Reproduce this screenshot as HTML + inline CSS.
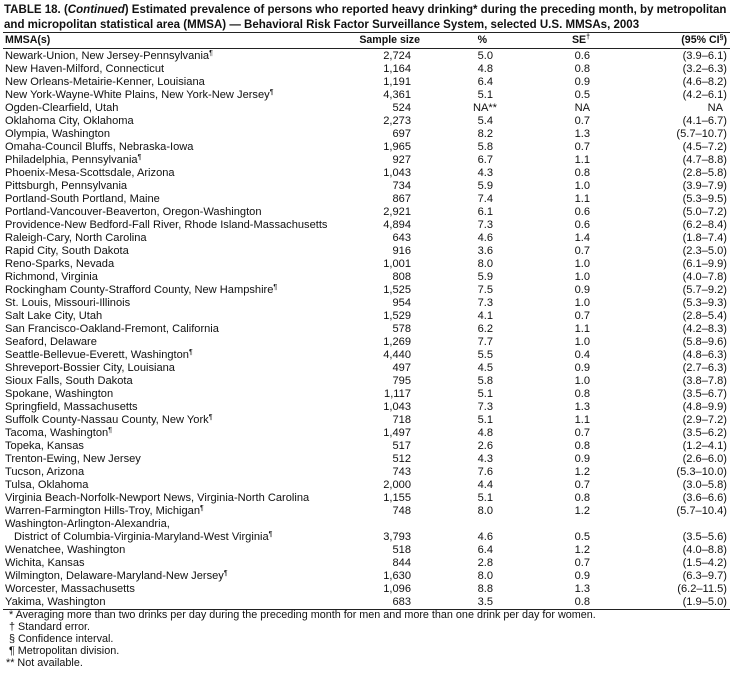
<!DOCTYPE html>
<html><head><meta charset="utf-8"><style>
body{margin:0;background:#fff;width:733px;height:676px;overflow:hidden;font-family:"Liberation Sans",Arial,sans-serif;color:#111;position:relative}
.t{position:absolute;left:4px;font-weight:bold;font-size:12px;white-space:nowrap;transform-origin:0 0;transform:scaleX(0.96)}
.hr{position:absolute;left:3px;width:727px;height:1px;background:#222}
.r{position:absolute;left:0;width:733px;height:13px;line-height:13px;font-size:11.1px;white-space:nowrap}
.r span{position:absolute;top:0}
.n{left:5px}
.s{right:322px;text-align:right}
.p{right:240px}
.e{right:143px}
.c{right:6px}
sup{font-size:7px;line-height:0;vertical-align:4px}
.h{font-weight:bold;font-size:10.6px}
.f{position:absolute;left:6px;font-size:10.8px;line-height:12px;white-space:nowrap}
</style></head><body>
<div class="t" style="top:2px">TABLE 18. (<i>Continued</i>) Estimated prevalence of persons who reported heavy drinking* during the preceding month, by metropolitan</div>
<div class="t" style="top:17px">and micropolitan statistical area (MMSA) — Behavioral Risk Factor Surveillance System, selected U.S. MMSAs, 2003</div>
<div class="hr" style="top:32px"></div>
<div class="r h" style="top:34px"><span class="n">MMSA(s)</span><span class="s" style="right:313px">Sample size</span><span class="p" style="right:246px">%</span><span class="e">SE<sup>†</sup></span><span class="c">(95% CI<sup>§</sup>)</span></div>
<div class="hr" style="top:48px"></div>
<div class="hr" style="top:609px"></div>
<div class="f" style="top:609px">&nbsp;* Averaging more than two drinks per day during the preceding month for men and more than one drink per day for women.</div>
<div class="f" style="top:621px">&nbsp;† Standard error.</div>
<div class="f" style="top:633px">&nbsp;§ Confidence interval.</div>
<div class="f" style="top:645px">&nbsp;¶ Metropolitan division.</div>
<div class="f" style="top:657px">** Not available.</div>
<div class="r" style="top:50px"><span class="n">Newark-Union, New Jersey-Pennsylvania<sup>¶</sup></span><span class="s">2,724</span><span class="p">5.0</span><span class="e">0.6</span><span class="c">(3.9–6.1)</span></div>
<div class="r" style="top:63px"><span class="n">New Haven-Milford, Connecticut</span><span class="s">1,164</span><span class="p">4.8</span><span class="e">0.8</span><span class="c">(3.2–6.3)</span></div>
<div class="r" style="top:76px"><span class="n">New Orleans-Metairie-Kenner, Louisiana</span><span class="s">1,191</span><span class="p">6.4</span><span class="e">0.9</span><span class="c">(4.6–8.2)</span></div>
<div class="r" style="top:89px"><span class="n">New York-Wayne-White Plains, New York-New Jersey<sup>¶</sup></span><span class="s">4,361</span><span class="p">5.1</span><span class="e">0.5</span><span class="c">(4.2–6.1)</span></div>
<div class="r" style="top:102px"><span class="n">Ogden-Clearfield, Utah</span><span class="s">524</span><span class="p" style="right:236px">NA**</span><span class="e">NA</span><span class="c" style="right:10px">NA</span></div>
<div class="r" style="top:115px"><span class="n">Oklahoma City, Oklahoma</span><span class="s">2,273</span><span class="p">5.4</span><span class="e">0.7</span><span class="c">(4.1–6.7)</span></div>
<div class="r" style="top:128px"><span class="n">Olympia, Washington</span><span class="s">697</span><span class="p">8.2</span><span class="e">1.3</span><span class="c">(5.7–10.7)</span></div>
<div class="r" style="top:141px"><span class="n">Omaha-Council Bluffs, Nebraska-Iowa</span><span class="s">1,965</span><span class="p">5.8</span><span class="e">0.7</span><span class="c">(4.5–7.2)</span></div>
<div class="r" style="top:154px"><span class="n">Philadelphia, Pennsylvania<sup>¶</sup></span><span class="s">927</span><span class="p">6.7</span><span class="e">1.1</span><span class="c">(4.7–8.8)</span></div>
<div class="r" style="top:167px"><span class="n">Phoenix-Mesa-Scottsdale, Arizona</span><span class="s">1,043</span><span class="p">4.3</span><span class="e">0.8</span><span class="c">(2.8–5.8)</span></div>
<div class="r" style="top:180px"><span class="n">Pittsburgh, Pennsylvania</span><span class="s">734</span><span class="p">5.9</span><span class="e">1.0</span><span class="c">(3.9–7.9)</span></div>
<div class="r" style="top:193px"><span class="n">Portland-South Portland, Maine</span><span class="s">867</span><span class="p">7.4</span><span class="e">1.1</span><span class="c">(5.3–9.5)</span></div>
<div class="r" style="top:206px"><span class="n">Portland-Vancouver-Beaverton, Oregon-Washington</span><span class="s">2,921</span><span class="p">6.1</span><span class="e">0.6</span><span class="c">(5.0–7.2)</span></div>
<div class="r" style="top:219px"><span class="n">Providence-New Bedford-Fall River, Rhode Island-Massachusetts</span><span class="s">4,894</span><span class="p">7.3</span><span class="e">0.6</span><span class="c">(6.2–8.4)</span></div>
<div class="r" style="top:232px"><span class="n">Raleigh-Cary, North Carolina</span><span class="s">643</span><span class="p">4.6</span><span class="e">1.4</span><span class="c">(1.8–7.4)</span></div>
<div class="r" style="top:245px"><span class="n">Rapid City, South Dakota</span><span class="s">916</span><span class="p">3.6</span><span class="e">0.7</span><span class="c">(2.3–5.0)</span></div>
<div class="r" style="top:258px"><span class="n">Reno-Sparks, Nevada</span><span class="s">1,001</span><span class="p">8.0</span><span class="e">1.0</span><span class="c">(6.1–9.9)</span></div>
<div class="r" style="top:271px"><span class="n">Richmond, Virginia</span><span class="s">808</span><span class="p">5.9</span><span class="e">1.0</span><span class="c">(4.0–7.8)</span></div>
<div class="r" style="top:284px"><span class="n">Rockingham County-Strafford County, New Hampshire<sup>¶</sup></span><span class="s">1,525</span><span class="p">7.5</span><span class="e">0.9</span><span class="c">(5.7–9.2)</span></div>
<div class="r" style="top:297px"><span class="n">St. Louis, Missouri-Illinois</span><span class="s">954</span><span class="p">7.3</span><span class="e">1.0</span><span class="c">(5.3–9.3)</span></div>
<div class="r" style="top:310px"><span class="n">Salt Lake City, Utah</span><span class="s">1,529</span><span class="p">4.1</span><span class="e">0.7</span><span class="c">(2.8–5.4)</span></div>
<div class="r" style="top:323px"><span class="n">San Francisco-Oakland-Fremont, California</span><span class="s">578</span><span class="p">6.2</span><span class="e">1.1</span><span class="c">(4.2–8.3)</span></div>
<div class="r" style="top:336px"><span class="n">Seaford, Delaware</span><span class="s">1,269</span><span class="p">7.7</span><span class="e">1.0</span><span class="c">(5.8–9.6)</span></div>
<div class="r" style="top:349px"><span class="n">Seattle-Bellevue-Everett, Washington<sup>¶</sup></span><span class="s">4,440</span><span class="p">5.5</span><span class="e">0.4</span><span class="c">(4.8–6.3)</span></div>
<div class="r" style="top:362px"><span class="n">Shreveport-Bossier City, Louisiana</span><span class="s">497</span><span class="p">4.5</span><span class="e">0.9</span><span class="c">(2.7–6.3)</span></div>
<div class="r" style="top:375px"><span class="n">Sioux Falls, South Dakota</span><span class="s">795</span><span class="p">5.8</span><span class="e">1.0</span><span class="c">(3.8–7.8)</span></div>
<div class="r" style="top:388px"><span class="n">Spokane, Washington</span><span class="s">1,117</span><span class="p">5.1</span><span class="e">0.8</span><span class="c">(3.5–6.7)</span></div>
<div class="r" style="top:401px"><span class="n">Springfield, Massachusetts</span><span class="s">1,043</span><span class="p">7.3</span><span class="e">1.3</span><span class="c">(4.8–9.9)</span></div>
<div class="r" style="top:414px"><span class="n">Suffolk County-Nassau County, New York<sup>¶</sup></span><span class="s">718</span><span class="p">5.1</span><span class="e">1.1</span><span class="c">(2.9–7.2)</span></div>
<div class="r" style="top:427px"><span class="n">Tacoma, Washington<sup>¶</sup></span><span class="s">1,497</span><span class="p">4.8</span><span class="e">0.7</span><span class="c">(3.5–6.2)</span></div>
<div class="r" style="top:440px"><span class="n">Topeka, Kansas</span><span class="s">517</span><span class="p">2.6</span><span class="e">0.8</span><span class="c">(1.2–4.1)</span></div>
<div class="r" style="top:453px"><span class="n">Trenton-Ewing, New Jersey</span><span class="s">512</span><span class="p">4.3</span><span class="e">0.9</span><span class="c">(2.6–6.0)</span></div>
<div class="r" style="top:466px"><span class="n">Tucson, Arizona</span><span class="s">743</span><span class="p">7.6</span><span class="e">1.2</span><span class="c">(5.3–10.0)</span></div>
<div class="r" style="top:479px"><span class="n">Tulsa, Oklahoma</span><span class="s">2,000</span><span class="p">4.4</span><span class="e">0.7</span><span class="c">(3.0–5.8)</span></div>
<div class="r" style="top:492px"><span class="n">Virginia Beach-Norfolk-Newport News, Virginia-North Carolina</span><span class="s">1,155</span><span class="p">5.1</span><span class="e">0.8</span><span class="c">(3.6–6.6)</span></div>
<div class="r" style="top:505px"><span class="n">Warren-Farmington Hills-Troy, Michigan<sup>¶</sup></span><span class="s">748</span><span class="p">8.0</span><span class="e">1.2</span><span class="c">(5.7–10.4)</span></div>
<div class="r" style="top:518px"><span class="n">Washington-Arlington-Alexandria,</span></div>
<div class="r" style="top:531px"><span class="n" style="left:14px">District of Columbia-Virginia-Maryland-West Virginia<sup>¶</sup></span><span class="s">3,793</span><span class="p">4.6</span><span class="e">0.5</span><span class="c">(3.5–5.6)</span></div>
<div class="r" style="top:544px"><span class="n">Wenatchee, Washington</span><span class="s">518</span><span class="p">6.4</span><span class="e">1.2</span><span class="c">(4.0–8.8)</span></div>
<div class="r" style="top:557px"><span class="n">Wichita, Kansas</span><span class="s">844</span><span class="p">2.8</span><span class="e">0.7</span><span class="c">(1.5–4.2)</span></div>
<div class="r" style="top:570px"><span class="n">Wilmington, Delaware-Maryland-New Jersey<sup>¶</sup></span><span class="s">1,630</span><span class="p">8.0</span><span class="e">0.9</span><span class="c">(6.3–9.7)</span></div>
<div class="r" style="top:583px"><span class="n">Worcester, Massachusetts</span><span class="s">1,096</span><span class="p">8.8</span><span class="e">1.3</span><span class="c">(6.2–11.5)</span></div>
<div class="r" style="top:596px"><span class="n">Yakima, Washington</span><span class="s">683</span><span class="p">3.5</span><span class="e">0.8</span><span class="c">(1.9–5.0)</span></div>
</body></html>
